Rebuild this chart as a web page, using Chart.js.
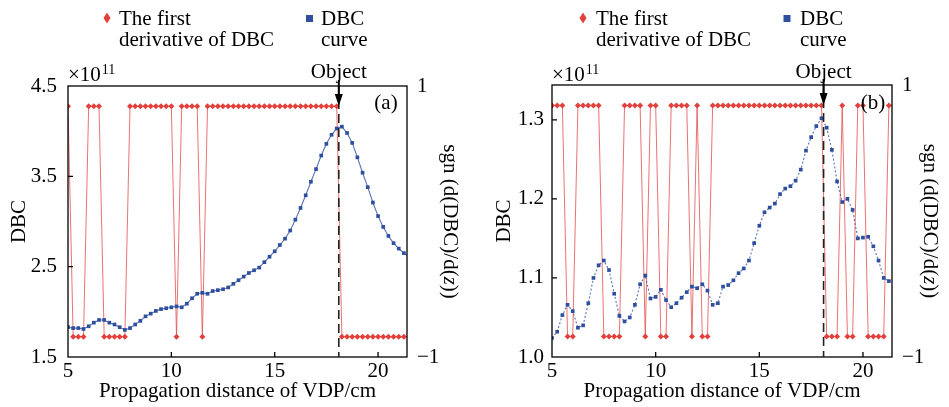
<!DOCTYPE html>
<html>
<head>
<meta charset="utf-8">
<script src="https://cdn.jsdelivr.net/npm/chart.js@4"></script>
<style>
  html, body { margin: 0; padding: 0; background: #fff; }
  #wrap { position: relative; width: 949px; height: 407px; }
  canvas { position: absolute; top: 0; }
  #chartA { left: 0; }
  #chartB { left: 475px; }
</style>
</head>
<body>
<div id="wrap">
  <canvas id="chartA" width="475" height="407"></canvas>
  <canvas id="chartB" width="474" height="407"></canvas>
</div>
<script>
// propagation distance of the VDP (cm)
const distance = [
  5.00, 5.25, 5.50, 5.75, 6.00, 6.25, 6.50, 6.75, 7.00, 7.25,
  7.50, 7.75, 8.00, 8.25, 8.50, 8.75, 9.00, 9.25, 9.50, 9.75,
  10.00, 10.25, 10.50, 10.75, 11.00, 11.25, 11.50, 11.75, 12.00, 12.25,
  12.50, 12.75, 13.00, 13.25, 13.50, 13.75, 14.00, 14.25, 14.50, 14.75,
  15.00, 15.25, 15.50, 15.75, 16.00, 16.25, 16.50, 16.75, 17.00, 17.25,
  17.50, 17.75, 18.00, 18.25, 18.50, 18.75, 19.00, 19.25, 19.50, 19.75,
  20.00, 20.25, 20.50, 20.75, 21.00, 21.25, 21.50
];

// panel (a), DBC in units of 1e11
const dbcA = [
  1.83, 1.82, 1.82, 1.81, 1.84, 1.88, 1.91, 1.91, 1.88, 1.86,
  1.83, 1.80, 1.82, 1.86, 1.90, 1.95, 1.98, 2.01, 2.03, 2.04,
  2.05, 2.06, 2.05, 2.09, 2.15, 2.20, 2.21, 2.20, 2.23, 2.24,
  2.25, 2.27, 2.31, 2.35, 2.39, 2.43, 2.46, 2.49, 2.55, 2.61,
  2.67, 2.74, 2.81, 2.90, 3.02, 3.15, 3.29, 3.44, 3.58, 3.73,
  3.86, 3.96, 4.03, 4.05, 3.98, 3.87, 3.71, 3.54, 3.38, 3.21,
  3.06, 2.94, 2.84, 2.76, 2.70, 2.65, 2.61
];
const sgnA = [
  0.85, -0.85, -0.85, -0.85, 0.85, 0.85, 0.85, -0.85, -0.85, -0.85,
  -0.85, -0.85, 0.85, 0.85, 0.85, 0.85, 0.85, 0.85, 0.85, 0.85,
  0.85, -0.85, 0.85, 0.85, 0.85, 0.85, -0.85, 0.85, 0.85, 0.85,
  0.85, 0.85, 0.85, 0.85, 0.85, 0.85, 0.85, 0.85, 0.85, 0.85,
  0.85, 0.85, 0.85, 0.85, 0.85, 0.85, 0.85, 0.85, 0.85, 0.85,
  0.85, 0.85, 0.85, -0.85, -0.85, -0.85, -0.85, -0.85, -0.85, -0.85,
  -0.85, -0.85, -0.85, -0.85, -0.85, -0.85, -0.85
];

// panel (b), DBC in units of 1e11
const dbcB = [
  1.024, 1.032, 1.053, 1.066, 1.058, 1.037, 1.040, 1.068, 1.100, 1.116,
  1.122, 1.110, 1.080, 1.052, 1.045, 1.050, 1.066, 1.092, 1.103, 1.074,
  1.076, 1.085, 1.072, 1.063, 1.068, 1.075, 1.082, 1.089, 1.087, 1.092,
  1.084, 1.066, 1.068, 1.089, 1.091, 1.097, 1.106, 1.112, 1.122, 1.144,
  1.166, 1.183, 1.189, 1.194, 1.206, 1.213, 1.216, 1.223, 1.237, 1.261,
  1.278, 1.292, 1.302, 1.290, 1.262, 1.222, 1.196, 1.200, 1.186, 1.150,
  1.151, 1.152, 1.140, 1.122, 1.100, 1.096, 1.098
];
const sgnB = [
  0.85, 0.85, 0.85, -0.85, -0.85, 0.85, 0.85, 0.85, 0.85, 0.85,
  -0.85, -0.85, -0.85, -0.85, 0.85, 0.85, 0.85, 0.85, -0.85, 0.85,
  0.85, -0.85, -0.85, 0.85, 0.85, 0.85, 0.85, -0.85, 0.85, -0.85,
  -0.85, 0.85, 0.85, 0.85, 0.85, 0.85, 0.85, 0.85, 0.85, 0.85,
  0.85, 0.85, 0.85, 0.85, 0.85, 0.85, 0.85, 0.85, 0.85, 0.85,
  0.85, 0.85, 0.85, -0.85, -0.85, -0.85, 0.85, -0.85, -0.85, 0.85,
  0.85, -0.85, -0.85, -0.85, -0.85, 0.85, 0.85
];

const xTicks = [5, 10, 15, 20];
const dbcTicksA = [1.5, 2.5, 3.5, 4.5];
const dbcTicksB = [1.0, 1.1, 1.2, 1.3];
const sgnTicks = [-1, 1];
const objectPosition = 18.1;

const serif = "'Liberation Serif', 'Times New Roman', serif";
const font = { family: serif, size: 21 };
const red = '#e3403b';
const blue = '#2d4f9e';

function drawLegend(ctx, lx) {
  ctx.fillStyle = red;
  ctx.beginPath();
  ctx.moveTo(lx.diamond, 12.5);
  ctx.lineTo(lx.diamond + 3.5, 18);
  ctx.lineTo(lx.diamond, 23.5);
  ctx.lineTo(lx.diamond - 3.5, 18);
  ctx.closePath();
  ctx.fill();
  ctx.fillStyle = blue;
  ctx.fillRect(lx.square - 3.5, 15, 7, 7);
  ctx.fillStyle = '#000';
  ctx.font = `21px ${serif}`;
  ctx.textAlign = 'left';
  ctx.textBaseline = 'alphabetic';
  ctx.fillText('The first', lx.text1, 25);
  ctx.fillText('derivative of DBC', lx.text1, 46);
  ctx.fillText('DBC', lx.text2, 25);
  ctx.fillText('curve', lx.text2, 46);
}

const decorPlugin = {
  id: 'decor',
  afterDraw(chart, args, o) {
    const { ctx, chartArea: a, scales: { x, y } } = chart;
    ctx.save();
    // box
    ctx.strokeStyle = '#000';
    ctx.lineWidth = 1.3;
    ctx.strokeRect(a.left, a.top, a.right - a.left, a.bottom - a.top);
    // inward ticks
    ctx.beginPath();
    xTicks.forEach(v => {
      const px = x.getPixelForValue(v);
      if (px > a.left + 1 && px < a.right - 1) { ctx.moveTo(px, a.bottom); ctx.lineTo(px, a.bottom - 5); }
    });
    o.yTicks.forEach(v => {
      const py = y.getPixelForValue(v);
      if (py > a.top + 1 && py < a.bottom - 1) { ctx.moveTo(a.left, py); ctx.lineTo(a.left + 5, py); }
    });
    ctx.stroke();

    // object marker
    const ox = x.getPixelForValue(objectPosition);
    ctx.setLineDash([9, 5]);
    ctx.strokeStyle = '#222';
    ctx.lineWidth = 1.6;
    ctx.beginPath();
    ctx.moveTo(ox, a.top);
    ctx.lineTo(ox, a.bottom);
    ctx.stroke();
    ctx.setLineDash([]);
    ctx.strokeStyle = '#000';
    ctx.lineWidth = 2;
    ctx.beginPath();
    ctx.moveTo(ox, a.top - 6);
    ctx.lineTo(ox, a.top + 9);
    ctx.stroke();
    ctx.fillStyle = '#000';
    ctx.beginPath();
    ctx.moveTo(ox - 4, a.top + 8);
    ctx.lineTo(ox + 4, a.top + 8);
    ctx.lineTo(ox, a.top + 20);
    ctx.closePath();
    ctx.fill();

    ctx.font = `21px ${serif}`;
    ctx.textAlign = 'center';
    ctx.textBaseline = 'alphabetic';
    ctx.fillText('Object', ox, 78);

    // panel label
    ctx.textBaseline = 'middle';
    ctx.fillText(o.panel, o.panelX, 103);

    // exponent
    ctx.textAlign = 'left';
    ctx.textBaseline = 'alphabetic';
    ctx.fillText('\u00d710', a.left, 81);
    const w = ctx.measureText('\u00d710').width;
    ctx.font = `14px ${serif}`;
    ctx.fillText('11', a.left + w + 1, 74);

    // right axis title, read top to bottom
    const parts = [['sgn (d(DBC)/d(', 'normal'], ['z', 'italic'], ['))', 'normal']];
    let total = 0;
    parts.forEach(p => { ctx.font = `${p[1]} 21px ${serif}`; total += ctx.measureText(p[0]).width; });
    ctx.translate(o.rightTitleX, (a.top + a.bottom) / 2);
    ctx.rotate(Math.PI / 2);
    ctx.textBaseline = 'middle';
    let cx = -total / 2;
    parts.forEach(p => {
      ctx.font = `${p[1]} 21px ${serif}`;
      ctx.fillText(p[0], cx, 0);
      cx += ctx.measureText(p[0]).width;
    });
    ctx.setTransform(1, 0, 0, 1, 0, 0);

    drawLegend(ctx, o.legend);
    ctx.restore();
  }
};

function buildChart(id, cfg) {
  return new Chart(document.getElementById(id), {
    type: 'line',
    data: {
      datasets: [
        {
          label: 'DBC curve',
          data: distance.map((d, i) => ({ x: d, y: cfg.dbc[i] })),
          yAxisID: 'y',
          borderColor: 'rgba(60, 90, 170, 0.85)',
          borderWidth: 1.1,
          borderDash: cfg.dash,
          pointStyle: 'rect',
          pointRadius: 2.6,
          pointBackgroundColor: blue,
          pointBorderWidth: 0,
          tension: 0
        },
        {
          label: 'The first derivative of DBC',
          data: distance.map((d, i) => ({ x: d, y: cfg.sgn[i] })),
          yAxisID: 'y2',
          borderColor: 'rgba(226, 80, 80, 0.8)',
          borderWidth: 1,
          pointStyle: 'rectRot',
          pointRadius: 3,
          pointBackgroundColor: red,
          pointBorderWidth: 0,
          tension: 0
        }
      ]
    },
    options: {
      responsive: false,
      animation: false,
      layout: { padding: { top: cfg.top, left: 0, right: 0, bottom: 0 } },
      plugins: {
        legend: { display: false },
        tooltip: { enabled: false },
        decor: {
          yTicks: cfg.yTicks, panel: cfg.panel, panelX: cfg.panelX,
          rightTitleX: cfg.rightTitleX, legend: cfg.legend
        }
      },
      scales: {
        x: {
          type: 'linear', min: 5, max: 21.4,
          grid: { display: false, drawTicks: false },
          border: { display: false },
          afterBuildTicks: s => { s.ticks = xTicks.map(v => ({ value: v })); },
          afterFit: s => { s.height = 50; },
          ticks: { font, color: '#000', padding: 2, maxRotation: 0, callback: v => String(v) },
          title: { display: true, text: 'Propagation distance of VDP/cm', font, color: '#000', padding: { top: 0, bottom: 3 } }
        },
        y: {
          position: 'left', min: cfg.yMin, max: cfg.yMax,
          grid: { display: false, drawTicks: false },
          border: { display: false },
          afterBuildTicks: s => { s.ticks = cfg.yTicks.map(v => ({ value: v })); },
          afterFit: s => { s.width = cfg.leftW; },
          ticks: { font, color: '#000', padding: cfg.yPad, callback: v => v.toFixed(1) },
          title: { display: true, text: 'DBC', font, color: '#000', padding: { top: cfg.yTitlePad, bottom: 0 } }
        },
        y2: {
          position: 'right', min: -1, max: 1,
          grid: { display: false, drawTicks: false },
          border: { display: false },
          afterBuildTicks: s => { s.ticks = sgnTicks.map(v => ({ value: v })); },
          afterFit: s => { s.width = cfg.rightW; },
          ticks: { font, color: '#000', padding: 10, callback: v => (v < 0 ? '\u22121' : String(v)) }
        }
      }
    },
    plugins: [decorPlugin]
  });
}

buildChart('chartA', {
  dbc: dbcA, sgn: sgnA, dash: [], yMin: 1.5, yMax: 4.5, yTicks: dbcTicksA,
  top: 86, leftW: 68, rightW: 68, yPad: 11, yTitlePad: 7,
  panel: '(a)', panelX: 386, rightTitleX: 450,
  legend: { diamond: 107, text1: 119, square: 309.5, text2: 321 }
});

buildChart('chartB', {
  dbc: dbcB, sgn: sgnB, dash: [2, 2], yMin: 1.0, yMax: 1.344, yTicks: dbcTicksB,
  top: 85, leftW: 77, rightW: 57, yPad: 8, yTitlePad: 17,
  panel: '(b)', panelX: 398, rightTitleX: 455,
  legend: { diamond: 108, text1: 121, square: 312, text2: 325 }
});
</script>
</body>
</html>
